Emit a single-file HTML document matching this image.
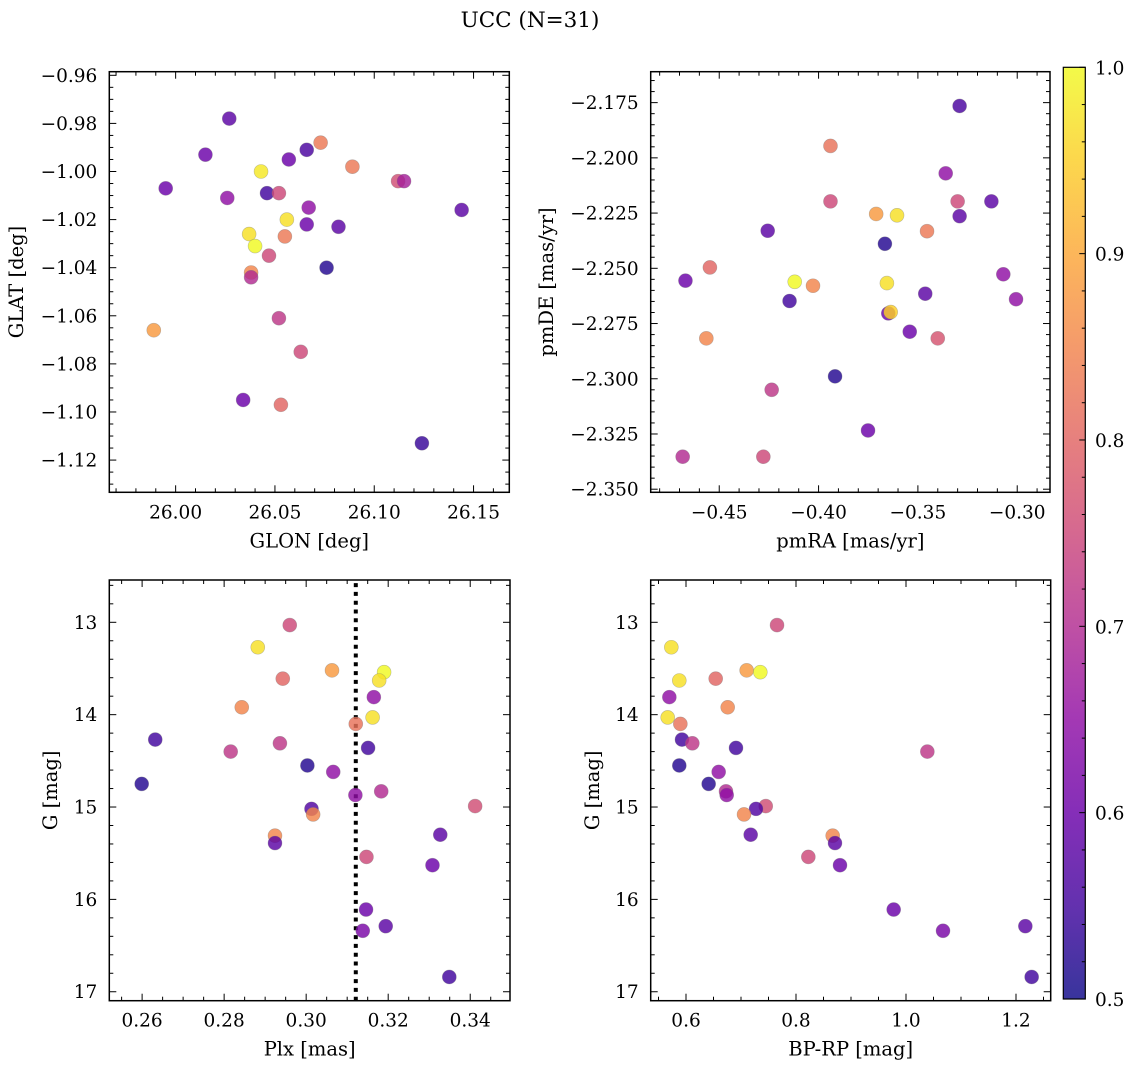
<!DOCTYPE html>
<html><head><meta charset="utf-8"><style>
html,body{margin:0;padding:0;background:#fff;}
svg{display:block;font-family:"DejaVu Serif","Liberation Serif",serif;}
</style></head><body>
<svg id="fig" width="1136" height="1067" viewBox="0 0 1136 1067" xmlns="http://www.w3.org/2000/svg">
<defs>
<linearGradient id="plasma" x1="0" y1="1" x2="0" y2="0">
<stop offset="0" stop-color="#0d0887"/><stop offset="0.1" stop-color="#41049d"/><stop offset="0.2" stop-color="#6a00a8"/><stop offset="0.3" stop-color="#8f0da4"/><stop offset="0.4" stop-color="#b12a90"/><stop offset="0.5" stop-color="#cc4778"/><stop offset="0.6" stop-color="#e16462"/><stop offset="0.7" stop-color="#f2844b"/><stop offset="0.8" stop-color="#fca636"/><stop offset="0.9" stop-color="#fcce25"/><stop offset="1" stop-color="#f0f921"/>
</linearGradient>
</defs>
<text x="530" y="27" font-size="21.5" text-anchor="middle">UCC (N=31)</text>
</svg>
<script>
// Panel 1: GLON vs GLAT
const glon = [26.027,26.015,25.995,26.026,26.043,26.046,26.052,26.057,26.066,26.073,26.089,26.112,26.115,26.144,26.067,26.056,26.066,26.082,26.037,26.055,26.040,26.047,26.076,26.038,26.038,26.052,25.989,26.063,26.034,26.053,26.124];
const glat = [-0.978,-0.993,-1.007,-1.011,-1.000,-1.009,-1.009,-0.995,-0.991,-0.988,-0.998,-1.004,-1.004,-1.016,-1.015,-1.020,-1.022,-1.023,-1.026,-1.027,-1.031,-1.035,-1.040,-1.042,-1.044,-1.061,-1.066,-1.075,-1.095,-1.097,-1.113];
const prob1 = [0.58,0.6,0.6,0.65,0.98,0.55,0.75,0.6,0.56,0.83,0.83,0.76,0.68,0.58,0.65,0.97,0.6,0.58,0.97,0.83,1.0,0.75,0.52,0.85,0.7,0.72,0.88,0.75,0.6,0.8,0.54];
// Panel 2: pmRA vs pmDE
const pmra = [-0.329,-0.394,-0.336,-0.394,-0.330,-0.313,-0.371,-0.3605,-0.329,-0.4256,-0.3454,-0.3666,-0.4547,-0.467,-0.412,-0.4028,-0.3656,-0.307,-0.4146,-0.3463,-0.3006,-0.3649,-0.3637,-0.3541,-0.340,-0.4565,-0.3917,-0.4236,-0.3751,-0.4684,-0.4278];
const pmde = [-2.1765,-2.1946,-2.207,-2.2197,-2.2197,-2.2197,-2.2254,-2.226,-2.2264,-2.233,-2.2332,-2.2389,-2.2496,-2.2556,-2.2561,-2.2579,-2.2567,-2.2527,-2.2648,-2.2615,-2.264,-2.2704,-2.2698,-2.2787,-2.2817,-2.2817,-2.2989,-2.305,-2.3234,-2.3353,-2.3353];
const prob2 = [0.56,0.82,0.65,0.75,0.75,0.58,0.88,0.97,0.58,0.58,0.83,0.52,0.8,0.6,1.0,0.85,0.97,0.65,0.55,0.58,0.65,0.6,0.95,0.6,0.77,0.85,0.52,0.72,0.6,0.7,0.75];
// Panels 3/4: Plx, BP-RP vs G
const plx = [0.2960,0.2882,0.3063,0.3190,0.3178,0.2943,0.3165,0.2843,0.3162,0.3121,0.2632,0.2936,0.2816,0.3151,0.3003,0.3066,0.2599,0.3183,0.3120,0.3412,0.3013,0.3017,0.2924,0.2924,0.3327,0.3147,0.3308,0.3146,0.3194,0.3138,0.3349];
const bprp = [0.7655,0.5733,0.7103,0.7351,0.5878,0.654,0.5697,0.6758,0.5667,0.5897,0.5927,0.6115,1.0388,0.6909,0.5878,0.6594,0.6412,0.6727,0.674,0.745,0.7273,0.7055,0.8667,0.8709,0.7176,0.8224,0.88,0.9776,1.217,1.0673,1.2285];
const gmag = [13.03,13.27,13.52,13.54,13.63,13.61,13.81,13.92,14.03,14.10,14.27,14.31,14.40,14.36,14.55,14.62,14.75,14.83,14.87,14.99,15.02,15.08,15.31,15.39,15.30,15.54,15.63,16.11,16.29,16.34,16.84];
const prob3 = [0.75,0.97,0.88,1.0,0.97,0.8,0.65,0.85,0.97,0.82,0.55,0.72,0.72,0.55,0.52,0.65,0.52,0.7,0.65,0.76,0.57,0.85,0.85,0.58,0.58,0.75,0.6,0.6,0.58,0.62,0.55];
const plxLine = [0.3121];
const ticks1x = ["26.00","26.05","26.10","26.15"];
const ticks1y = ["−0.96","−0.98","−1.00","−1.02","−1.04","−1.06","−1.08","−1.10","−1.12"];
const ticks2x = ["−0.45","−0.40","−0.35","−0.30"];
const ticks2y = ["−2.175","−2.200","−2.225","−2.250","−2.275","−2.300","−2.325","−2.350"];
const ticks3x = ["0.26","0.28","0.30","0.32","0.34"];
const ticksG = ["13","14","15","16","17"];
const ticks4x = ["0.6","0.8","1.0","1.2"];
const cbarTicks = ["0.5","0.6","0.7","0.8","0.9","1.0"];

const NS="http://www.w3.org/2000/svg";
const svg=document.getElementById('fig');
const TF=18.5, LF=19.5;
function mk(tag,attrs,parent){const e=document.createElementNS(NS,tag);for(const k in attrs)e.setAttribute(k,attrs[k]);(parent||svg).appendChild(e);return e;}
const stops=[[13,8,135],[65,4,157],[106,0,168],[143,13,164],[177,42,144],[204,71,120],[225,100,98],[242,132,75],[252,166,54],[252,206,37],[240,249,33]];
function plasma(v){let t=Math.max(0,Math.min(1,(v-0.5)/0.5))*10;let i=Math.min(9,Math.floor(t));let f=t-i;const a=stops[i],b=stops[i+1];return 'rgb('+a.map((x,k)=>Math.round(x+(b[k]-x)*f)).join(',')+')';}

function panel(o){
  const g=mk('g',{});
  
  
  const X=v=>o.L+(v-o.x0)/(o.x1-o.x0)*(o.R-o.L);
  const Y=o.inv?(v=>o.T+(v-o.y0)/(o.y1-o.y0)*(o.B-o.T)):(v=>o.B-(v-o.y0)/(o.y1-o.y0)*(o.B-o.T));
  const tg=mk('g',{stroke:'#000','stroke-width':1},g);
  
  
  const eps=1e-9;
  for(let k=Math.ceil((Math.min(o.x0,o.x1))/o.xm-eps);k*o.xm<=Math.max(o.x0,o.x1)+eps;k++){
    const v=k*o.xm,px=X(v);const maj=Math.abs(v/o.xM-Math.round(v/o.xM))<1e-6;const len=maj?7:4;
    mk('line',{x1:px,x2:px,y1:o.B,y2:o.B-len},tg);mk('line',{x1:px,x2:px,y1:o.T,y2:o.T+len},tg);
  }
  const ylo=Math.min(o.y0,o.y1),yhi=Math.max(o.y0,o.y1);
  for(let k=Math.ceil(ylo/o.ym-eps);k*o.ym<=yhi+eps;k++){
    const v=k*o.ym,py=Y(v);const maj=Math.abs(v/o.yM-Math.round(v/o.yM))<1e-6;const len=maj?7:4;
    mk('line',{y1:py,y2:py,x1:o.L,x2:o.L+len},tg);mk('line',{y1:py,y2:py,x1:o.R,x2:o.R-len},tg);
  }
  o.xt.forEach(s=>{const v=parseFloat(s.replace('−','-'));const t=mk('text',{x:X(v),y:o.B+26,'font-size':TF,'text-anchor':'middle'},g);t.textContent=s;
    
    });
  o.yt.forEach(s=>{const v=parseFloat(s.replace('−','-'));const t=mk('text',{x:o.L-12,y:Y(v)+6.5,'font-size':TF,'text-anchor':'end'},g);t.textContent=s;
    
    });
  const xl=mk('text',{x:(o.L+o.R)/2,y:o.B+55,'font-size':LF,'text-anchor':'middle'},g);xl.textContent=o.xlab;
  
  
  const yl=mk('text',{x:0,y:0,'font-size':LF,'text-anchor':'middle',transform:'translate('+o.ylx+','+((o.T+o.B)/2)+') rotate(-90)'},g);yl.textContent=o.ylab;
  
  
  if(o.vline){o.vline.forEach(v=>{const l=mk('line',{x1:X(v),x2:X(v),y1:o.B,y2:o.T,stroke:'#000','stroke-width':4,'stroke-dasharray':'4 4.8'},g);
    
    });}
  const pts=mk('g',{},g);
  
  
  o.xs.forEach((xv,i)=>{const c=mk('circle',{cx:X(xv),cy:Y(o.ys[i]),r:7,fill:plasma(o.cs[i]),'fill-opacity':0.82,stroke:'#777','stroke-opacity':0.45,'stroke-width':0.6},pts);
    
    });
  const fr=mk('rect',{x:o.L,y:o.T,width:o.R-o.L,height:o.B-o.T,fill:'none',stroke:'#000','stroke-width':1.5},g);
  
  
}
panel({name:'glon-glat-panel',L:109.3,R:509.3,T:71.7,B:492.3,x0:25.9666,x1:26.168,y0:-1.1334,y1:-0.9585,xm:0.01,xM:0.05,ym:0.005,yM:0.02,xt:ticks1x,yt:ticks1y,xlab:'GLON [deg]',ylab:'GLAT [deg]',ylx:23,xs:glon,ys:glat,cs:prob1});
panel({name:'pm-panel',L:650.7,R:1050,T:71.7,B:492.3,x0:-0.4845,x1:-0.2835,y0:-2.3514,y1:-2.161,xm:0.01,xM:0.05,ym:0.005,yM:0.025,xt:ticks2x,yt:ticks2y,xlab:'pmRA [mas/yr]',ylab:'pmDE [mas/yr]',ylx:553,xs:pmra,ys:pmde,cs:prob2});
panel({name:'plx-g-panel',L:109.3,R:510,T:580,B:1000.7,x0:0.2520,x1:0.3497,y0:12.542,y1:17.097,inv:true,xm:0.005,xM:0.02,ym:0.2,yM:1,xt:ticks3x,yt:ticksG,xlab:'Plx [mas]',ylab:'G [mag]',ylx:57,xs:plx,ys:gmag,cs:prob3,vline:plxLine});
panel({name:'cmd-panel',L:650.7,R:1050.7,T:580,B:1000.7,x0:0.5358,x1:1.2631,y0:12.542,y1:17.097,inv:true,xm:0.05,xM:0.2,ym:0.2,yM:1,xt:ticks4x,yt:ticksG,xlab:'BP-RP [mag]',ylab:'G [mag]',ylx:599,xs:bprp,ys:gmag,cs:prob3});

const cb=mk('g',{});


const CT=67.3,CB=999,CL=1063.3,CR=1085.3;
mk('rect',{x:CL,y:CT,width:CR-CL,height:CB-CT,fill:'url(#plasma)','fill-opacity':0.82,stroke:'#000','stroke-width':1.2},cb);
for(let k=0;k<=25;k++){const py=CB-k*(CB-CT)/25;const maj=k%5===0;mk('line',{x1:CR,x2:CR-(maj?6:3.5),y1:py,y2:py,stroke:'#000','stroke-width':1},cb);}
cbarTicks.forEach(s=>{const v=parseFloat(s);const py=CB-(v-0.5)/0.5*(CB-CT);const t=mk('text',{x:1095,y:py+7,'font-size':TF},cb);t.textContent=s;
  
  });
</script>
</body></html>
